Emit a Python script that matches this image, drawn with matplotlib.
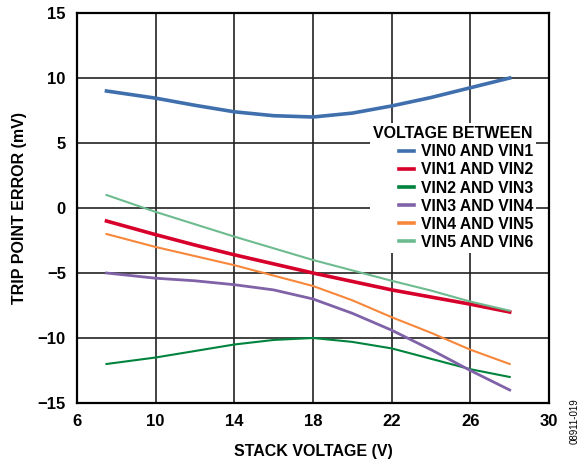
import matplotlib
matplotlib.use('Agg')
from matplotlib import pyplot as plt

plt.rcParams['font.family'] = ['Liberation Sans', 'DejaVu Sans']

stack_v = [7.5, 10, 12, 14, 16, 18, 20, 22, 24, 26, 28]

vin0_vin1 = [9.0, 8.45, 7.9, 7.4, 7.1, 7.0, 7.3, 7.85, 8.5, 9.25, 10.0]
vin1_vin2 = [-1.0, -2.05, -2.85, -3.6, -4.3, -5.0, -5.65, -6.3, -6.85, -7.4, -8.0]
vin2_vin3 = [-12.0, -11.5, -11.0, -10.5, -10.15, -10.0, -10.3, -10.8, -11.6, -12.4, -13.0]
vin3_vin4 = [-5.0, -5.4, -5.6, -5.9, -6.3, -7.0, -8.1, -9.4, -10.9, -12.5, -14.0]
vin4_vin5 = [-2.0, -3.0, -3.7, -4.4, -5.2, -6.0, -7.1, -8.4, -9.6, -10.9, -12.0]
vin5_vin6 = [1.0, -0.3, -1.25, -2.2, -3.1, -4.0, -4.8, -5.6, -6.35, -7.2, -7.9]

labels = ['VIN0 AND VIN1', 'VIN1 AND VIN2', 'VIN2 AND VIN3',
          'VIN3 AND VIN4', 'VIN4 AND VIN5', 'VIN5 AND VIN6']
colors = ['#3f6fad', '#d7002a', '#00843d', '#8062a8', '#f7873a', '#6dbb8f']
widths = [2.6, 2.6, 1.5, 2.0, 1.5, 1.5]
series = [vin0_vin1, vin1_vin2, vin2_vin3, vin3_vin4, vin4_vin5, vin5_vin6]

fig = plt.figure(figsize=(5.85, 4.63), dpi=100)
ax = fig.add_axes([0.1316, 0.1296, 0.8069, 0.8423])

for vals, lab, col, lw in zip(series, labels, colors, widths):
  ax.plot(stack_v, vals, color=col, linewidth=lw, label=lab)

ax.set_xlim(6, 30)
ax.set_ylim(-15, 15)
ax.set_xticks(range(6, 31, 4))
ax.set_yticks(range(-15, 16, 5))
ax.set_yticklabels(['\u221215', '\u221210', '\u22125', '0', '5', '10', '15'])
ax.grid(True, color='#222222', linewidth=1.2)
ax.set_axisbelow(True)
for s in ax.spines.values():
  s.set_linewidth(1.6)
ax.tick_params(length=0, labelsize=12, pad=8)
for t in ax.get_xticklabels() + ax.get_yticklabels():
  t.set_fontweight('bold')

ax.set_xlabel('STACK VOLTAGE (V)', fontsize=11.5, fontweight='bold', labelpad=11)
ax.set_ylabel('TRIP POINT ERROR (mV)', fontsize=11.5, fontweight='bold', labelpad=8)

leg = ax.legend(title='VOLTAGE BETWEEN', loc='upper right',
                bbox_to_anchor=(0.9725, 0.718), frameon=True, fancybox=False,
                fontsize=11.3, handlelength=0.95, handletextpad=0.4,
                labelspacing=0.2, borderpad=0.2, borderaxespad=0)
leg.get_frame().set_edgecolor('none')
leg.get_frame().set_facecolor('white')
leg.get_frame().set_alpha(1)
leg._legend_box.align = 'right'
leg.get_title().set_fontweight('bold')
leg.get_title().set_fontsize(11.5)
for t in leg.get_texts():
  t.set_fontweight('bold')
for h in leg.legend_handles:
  h.set_linewidth(2.6)

fig.text(0.982, 0.09, '08911-019', rotation=90, fontsize=7, ha='center', va='center')

fig.savefig('out.png', dpi=100)
